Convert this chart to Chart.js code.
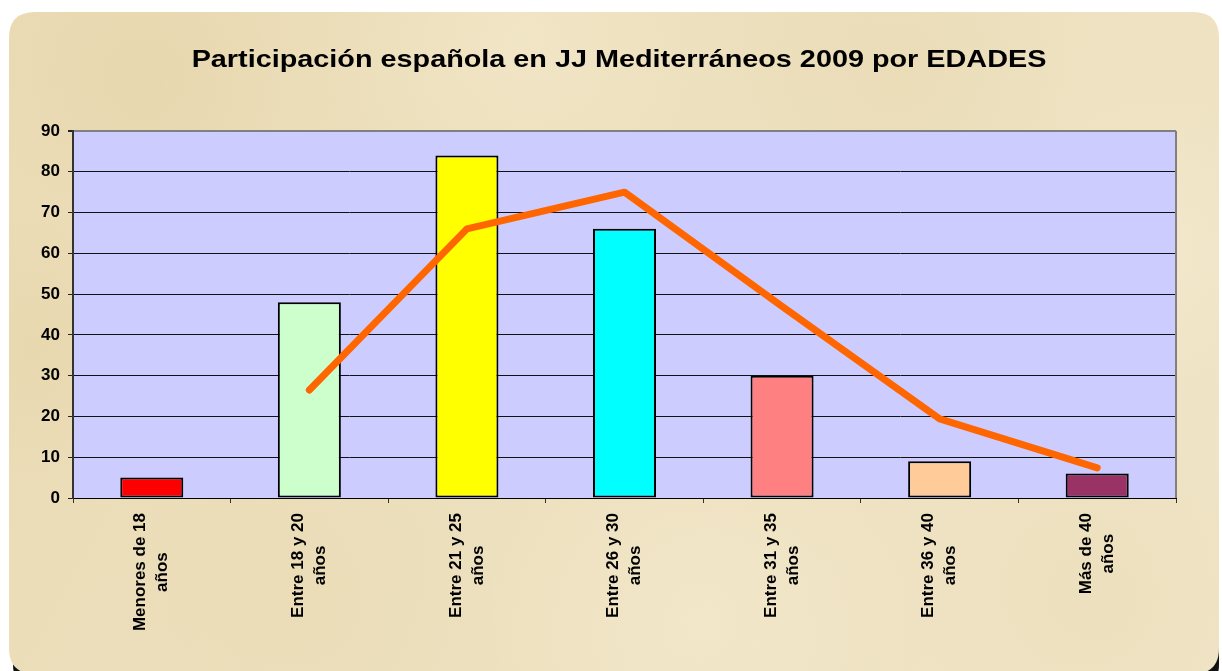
<!DOCTYPE html>
<html>
<head>
<meta charset="utf-8">
<script src="https://cdn.jsdelivr.net/npm/chart.js@4/dist/chart.umd.min.js"></script>
<style>
  html, body { margin: 0; padding: 0; background: #ffffff; }
  canvas { display: block; }
</style>
</head>
<body>
<canvas id="c" width="1222" height="671"></canvas>
<script>
const titleText = 'Participación española en JJ Mediterráneos 2009 por EDADES';
const categories = [
  ['Menores de 18', 'años'],
  ['Entre 18 y 20', 'años'],
  ['Entre 21 y 25', 'años'],
  ['Entre 26 y 30', 'años'],
  ['Entre 31 y 35', 'años'],
  ['Entre 36 y 40', 'años'],
  ['Más de 40', 'años']
];
const barValues = [5, 48, 84, 66, 30, 9, 6];
const lineValues = [null, 26.5, 66, 75, 47, 19.4, 7.4];
const barColors = ['#FF0000', '#CCFFCC', '#FFFF00', '#00FFFF', '#FF8080', '#FFCC99', '#993366'];
const yTicks = [0, 10, 20, 30, 40, 50, 60, 70, 80, 90];

function roundRect(ctx, x, y, w, h, r) {
  ctx.beginPath();
  ctx.moveTo(x + r, y);
  ctx.lineTo(x + w - r, y);
  ctx.quadraticCurveTo(x + w, y, x + w, y + r);
  ctx.lineTo(x + w, y + h - r);
  ctx.quadraticCurveTo(x + w, y + h, x + w - r, y + h);
  ctx.lineTo(x + r, y + h);
  ctx.quadraticCurveTo(x, y + h, x, y + h - r);
  ctx.lineTo(x, y + r);
  ctx.quadraticCurveTo(x, y, x + r, y);
  ctx.closePath();
}

const FONT = '"Liberation Sans", Arial, sans-serif';

const backgroundPlugin = {
  id: 'bg',
  beforeDraw(chart) {
    const ctx = chart.ctx;
    const W = chart.width, H = chart.height;
    ctx.save();
    ctx.fillStyle = '#ffffff';
    ctx.fillRect(0, 0, W, H);
    // shadow, only visible in the bottom corners
    ctx.fillStyle = '#111111';
    roundRect(ctx, 13, 20, 1206, 670, 26);
    ctx.fill();
    // parchment panel
    roundRect(ctx, 9, 12, 1210, 662, 26);
    ctx.clip();
    const g = ctx.createLinearGradient(0, 0, W, H);
    g.addColorStop(0, 'rgb(234,219,180)');
    g.addColorStop(0.5, 'rgb(237,224,190)');
    g.addColorStop(1, 'rgb(239,228,198)');
    ctx.fillStyle = g;
    ctx.fillRect(0, 0, W, H);
    const blotches = [
      [150, 80, 160, [224, 206, 160], 0.35],
      [520, 40, 200, [247, 239, 214], 0.4],
      [900, 70, 180, [228, 210, 166], 0.3],
      [1150, 250, 160, [247, 239, 214], 0.4],
      [40, 350, 140, [226, 208, 162], 0.35],
      [300, 600, 200, [232, 216, 176], 0.35],
      [700, 620, 220, [247, 239, 214], 0.4],
      [1100, 600, 180, [232, 216, 176], 0.3]
    ];
    for (const [x, y, r, c, a] of blotches) {
      const rg = ctx.createRadialGradient(x, y, 0, x, y, r);
      rg.addColorStop(0, `rgba(${c[0]},${c[1]},${c[2]},${a})`);
      rg.addColorStop(1, `rgba(${c[0]},${c[1]},${c[2]},0)`);
      ctx.fillStyle = rg;
      ctx.fillRect(x - r, y - r, 2 * r, 2 * r);
    }
    ctx.restore();
    // plot area
    const ar = chart.chartArea;
    ctx.save();
    ctx.fillStyle = '#CCCCFF';
    ctx.fillRect(ar.left, ar.top, ar.right - ar.left, ar.bottom - ar.top);
    ctx.restore();
  },
  beforeDatasetsDraw(chart) {
    const ctx = chart.ctx, a = chart.chartArea;
    ctx.save();
    ctx.strokeStyle = '#808080';
    ctx.lineWidth = 2;
    ctx.beginPath();
    ctx.moveTo(a.right, a.top);
    ctx.lineTo(a.right, a.bottom);
    ctx.stroke();
    ctx.restore();
  },
  afterDraw(chart) {
    const ctx = chart.ctx;
    // title (horizontally widened like the original)
    ctx.save();
    ctx.font = 'bold 24px ' + FONT;
    ctx.fillStyle = '#000000';
    ctx.textAlign = 'center';
    ctx.textBaseline = 'middle';
    ctx.translate(619, 60);
    ctx.scale(1.2, 1);
    ctx.fillText(titleText, 0, 0);
    ctx.restore();

    // category labels, rotated, lines centred on each other
    const xs = chart.scales.x;
    const lh = 22;
    ctx.save();
    ctx.font = 'bold 17px ' + FONT;
    ctx.fillStyle = '#000000';
    ctx.textAlign = 'center';
    ctx.textBaseline = 'middle';
    const top = chart.chartArea.bottom + 15;
    categories.forEach((lines, i) => {
      const xc = xs.getPixelForTick(i);
      let w = 0;
      lines.forEach(l => { w = Math.max(w, ctx.measureText(l).width); });
      ctx.save();
      ctx.translate(xc, top + w / 2);
      ctx.rotate(-Math.PI / 2);
      lines.forEach((l, k) => {
        ctx.fillText(l, 0, (k - (lines.length - 1) / 2) * lh);
      });
      ctx.restore();
    });
    ctx.restore();
  }
};

new Chart(document.getElementById('c'), {
  data: {
    labels: categories,
    datasets: [
      {
        type: 'line',
        data: lineValues,
        borderColor: '#FF6600',
        borderWidth: 7,
        pointRadius: 0,
        borderCapStyle: 'round',
        borderJoinStyle: 'round',
        tension: 0,
        order: 0
      },
      {
        type: 'bar',
        data: barValues,
        backgroundColor: barColors,
        borderColor: '#000000',
        borderWidth: 2,
        borderSkipped: false,
        barPercentage: 0.4,
        categoryPercentage: 1,
        order: 1
      }
    ]
  },
  options: {
    responsive: false,
    animation: false,
    events: [],
    layout: { padding: { left: 0, right: 46, top: 131, bottom: 0 } },
    plugins: {
      legend: { display: false },
      tooltip: { enabled: false },
      title: { display: false }
    },
    scales: {
      x: {
        type: 'category',
        offset: true,
        afterFit(scale) { scale.height = 173; },
        grid: {
          offset: true,
          drawOnChartArea: false,
          drawTicks: true,
          tickLength: 5,
          color: '#333333'
        },
        border: { display: true, color: '#000000', width: 1 },
        ticks: { display: false }
      },
      y: {
        min: 0,
        max: 90,
        afterFit(scale) { scale.width = 73; },
        afterBuildTicks(scale) { scale.ticks = yTicks.map(v => ({ value: v })); },
        grid: {
          color: ctx => (ctx.tick && ctx.tick.value === 90) ? '#808080' : '#111111',
          lineWidth: ctx => (ctx.tick && ctx.tick.value === 90) ? 2 : 1,
          tickColor: '#222222',
          tickLength: 5,
          drawTicks: true
        },
        border: { display: true, color: '#333333', width: 2 },
        ticks: {
          padding: 8,
          color: '#000000',
          font: { family: FONT, size: 17, weight: 'bold' }
        }
      }
    }
  },
  plugins: [backgroundPlugin]
});
</script>
</body>
</html>
